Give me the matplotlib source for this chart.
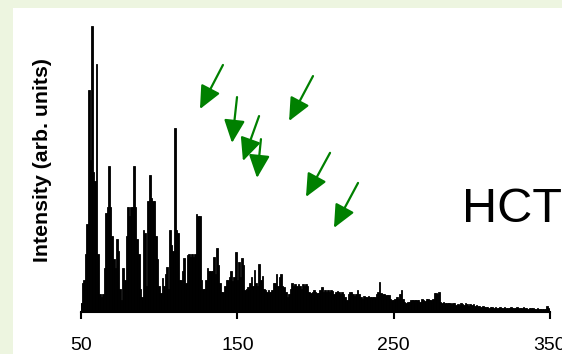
import numpy as np
import matplotlib
matplotlib.use("Agg")
import matplotlib.pyplot as plt
from matplotlib.patches import Rectangle

# ---- data ----
wn_start, wn_stop = 50, 350
intensity = [
    0.03, 0.10, 0.11, 0.20, 0.30, 0.76, 0.52, 0.98, 0.48, 0.45,   # 50-59
    0.85, 0.20, 0.06, 0.05, 0.06, 0.15, 0.34, 0.36, 0.50, 0.36,   # 60-69
    0.26, 0.18, 0.15, 0.25, 0.21, 0.08, 0.04, 0.15, 0.11, 0.26,   # 70-79
    0.36, 0.33, 0.36, 0.36, 0.50, 0.36, 0.25, 0.20, 0.08, 0.05,   # 80-89
    0.28, 0.27, 0.09, 0.38, 0.47, 0.39, 0.38, 0.38, 0.26, 0.18,   # 90-99
    0.09, 0.065, 0.115, 0.09, 0.13, 0.155, 0.08, 0.28, 0.23, 0.21,  # 100-109
    0.63, 0.28, 0.27, 0.11, 0.11, 0.14, 0.185, 0.10, 0.195, 0.20,   # 110-119
    0.19, 0.20, 0.19, 0.20, 0.335, 0.33, 0.33, 0.11, 0.08, 0.08,    # 120-129
    0.11, 0.15, 0.14, 0.14, 0.14, 0.19, 0.13, 0.22, 0.16, 0.10,     # 130-139
    0.07, 0.07, 0.09, 0.11, 0.11, 0.12, 0.14, 0.105, 0.12, 0.205,   # 140-149
    0.11, 0.172, 0.12, 0.185, 0.16, 0.075, 0.08, 0.085, 0.10, 0.12, # 150-159
    0.09, 0.145, 0.10, 0.09, 0.166, 0.11, 0.125, 0.08, 0.075, 0.07, # 160-169
    0.075, 0.07, 0.075, 0.10, 0.10, 0.13, 0.09, 0.12, 0.13, 0.09,   # 170-179
    0.085, 0.07, 0.05, 0.06, 0.08, 0.098, 0.09, 0.095, 0.09, 0.095, # 180-189
    0.09, 0.08, 0.095, 0.09, 0.095, 0.09, 0.07, 0.064, 0.07, 0.075, # 190-199
    0.07, 0.064, 0.064, 0.075, 0.087, 0.07, 0.075, 0.07, 0.074, 0.07,  # 200-209
    0.075, 0.072, 0.06, 0.07, 0.072, 0.07, 0.06, 0.07, 0.06, 0.05,     # 210-219
    0.04, 0.06, 0.07, 0.07, 0.06, 0.055, 0.06, 0.075, 0.06, 0.05,      # 220-229
    0.045, 0.055, 0.05, 0.05, 0.055, 0.05, 0.05, 0.05, 0.05, 0.06,     # 230-239
    0.07, 0.104, 0.065, 0.062, 0.062, 0.058, 0.057, 0.057, 0.045, 0.04,  # 240-249
    0.04, 0.045, 0.05, 0.045, 0.06, 0.075, 0.045, 0.035, 0.03, 0.035,    # 250-259
    0.035, 0.04, 0.04, 0.04, 0.042, 0.04, 0.042, 0.035, 0.045, 0.04,     # 260-269
    0.038, 0.045, 0.046, 0.04, 0.04, 0.045, 0.064, 0.066, 0.062, 0.068,  # 270-279
    0.035, 0.03, 0.035, 0.03, 0.03, 0.032, 0.03, 0.028, 0.03, 0.03,      # 280-289
    0.025, 0.028, 0.024, 0.03, 0.028, 0.025, 0.03, 0.028, 0.022, 0.026,  # 290-299
    0.024, 0.028, 0.02, 0.025, 0.022, 0.02, 0.018, 0.02, 0.018, 0.016,   # 300-309
    0.018, 0.013, 0.018, 0.016, 0.014, 0.018, 0.015, 0.013, 0.016, 0.014,  # 310-319
    0.013, 0.016, 0.012, 0.015, 0.014, 0.016, 0.012, 0.015, 0.013, 0.016,  # 320-329
    0.012, 0.015, 0.013, 0.016, 0.012, 0.014, 0.011, 0.014, 0.012, 0.015,  # 330-339
    0.011, 0.010, 0.012, 0.010, 0.011, 0.010, 0.011, 0.010, 0.020, 0.012,  # 340-349
    0.010,                                                                 # 350
]
wavenumber = np.arange(wn_start, wn_start + len(intensity))

x_ticks = [50, 150, 250, 350]
y_label = "Intensity (arb. units)"
sample_label = "HCT"

# arrows: (tail x, tail y, head x, head y) in data units
arrow_tails_x = [140.8, 149.8, 163.9, 165.1, 198.4, 209.3, 227.2]
arrow_tails_y = [0.846, 0.736, 0.671, 0.592, 0.808, 0.545, 0.442]
arrow_heads_x = [126.1, 146.6, 153.6, 162.6, 183.1, 193.9, 211.8]
arrow_heads_y = [0.695, 0.579, 0.517, 0.459, 0.654, 0.394, 0.288]

# ---- figure ----
W, H = 562, 354
fig = plt.figure(figsize=(W / 100, H / 100), dpi=100)
fig.patch.set_facecolor("#edf5e0")
fig.patches.append(Rectangle((13 / W, 0), 1 - 13 / W, 1 - 8 / H,
                             transform=fig.transFigure, facecolor="white",
                             edgecolor="none", zorder=-5))

ax = fig.add_axes([81 / W, (H - 312) / H, (550 - 81) / W, (312 - 20) / H])
ax.set_facecolor("none")
ax.set_zorder(2)

ax.bar(wavenumber, intensity, width=1.0, color="black",
       edgecolor="black", linewidth=0.6)

ax.set_xlim(50, 350)
ax.set_ylim(0, 1.0)

for s in ["left", "top", "right"]:
    ax.spines[s].set_visible(False)
ax.spines["bottom"].set_linewidth(1.5)
ax.set_yticks([])
ax.set_xticks(x_ticks)
ax.set_xticklabels([str(t) for t in x_ticks], fontsize=14, family="Liberation Sans")
ax.tick_params(axis="x", direction="out", length=5, width=1.5, pad=13)

fig.text(43 / W, 1 - 160 / H, y_label, rotation=90, ha="center", va="center",
         fontsize=15.3, fontweight="bold", family="Liberation Sans")

fig.text(462 / W, 1 - 222 / H, sample_label, ha="left", va="baseline",
         fontsize=35, family="Liberation Sans")

for tx, ty, hx, hy in zip(arrow_tails_x, arrow_tails_y, arrow_heads_x, arrow_heads_y):
    ax.annotate("", xy=(hx, hy), xytext=(tx, ty),
                arrowprops=dict(arrowstyle="-|>,head_length=0.7,head_width=0.32",
                                mutation_scale=20, color="#008000", lw=1.6,
                                shrinkA=0, shrinkB=0))

fig.savefig("out.png", dpi=100, facecolor=fig.get_facecolor())
